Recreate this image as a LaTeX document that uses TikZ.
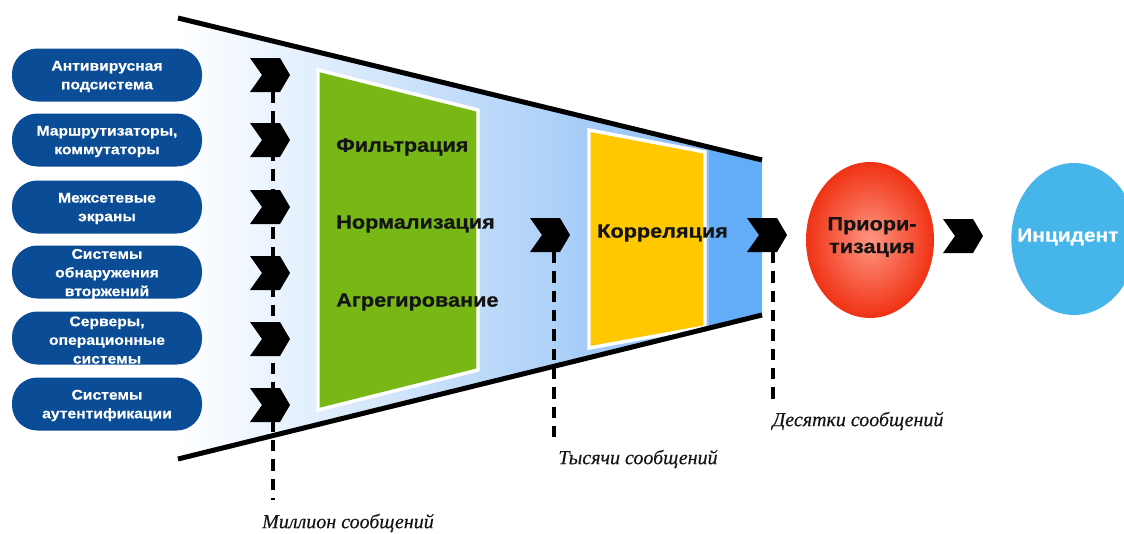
\documentclass[tikz,border=0pt]{standalone}
\usepackage{fontspec}
\setmainfont{Liberation Sans}
\newfontfamily\labfont[FakeStretch=1.12,FakeBold=0.6]{Liberation Sans}
\newfontfamily\notefont[FakeBold=0.3]{Liberation Serif}
\usetikzlibrary{shapes.geometric}

\definecolor{srcblue}{RGB}{10,76,150}
\definecolor{stagegreen}{RGB}{120,184,22}
\definecolor{corryellow}{RGB}{255,200,0}
\definecolor{funnelblue}{RGB}{140,190,245}
\definecolor{stripblue}{RGB}{98,172,248}
\definecolor{incblue}{RGB}{69,181,234}
\definecolor{prired}{RGB}{240,50,20}
\definecolor{prilight}{RGB}{255,150,130}
\definecolor{inkdark}{RGB}{20,20,20}

\tikzset{
  srcbox/.style={rectangle, rounded corners=19pt, fill=srcblue,
    minimum width=142.5pt, minimum height=39.75pt, inner sep=0pt},
  srctext/.style={text=white, align=center, inner sep=0pt,
    font=\labfont\bfseries\fontsize{10.5}{14}\selectfont},
  stagetext/.style={anchor=west, text=inkdark, inner sep=0pt,
    font=\labfont\bfseries\fontsize{14.5}{17}\selectfont},
  notetext/.style={text=inkdark, inner sep=0pt,
    font=\notefont\itshape\fontsize{15}{18}\selectfont},
  funnelline/.style={line width=3.75pt, line cap=butt},
  dashline/.style={line width=2.3pt, dash pattern=on 8.5pt off 6pt},
  panel/.style={draw=white, line width=2.6pt, line join=miter},
  chevron/.pic={
    \fill[black] (-20,-17) -- (10,-17) -- (20,0) -- (10,17) -- (-20,17) -- (-8,0) -- cycle;
    \coordinate (-c) at (0,0);
  },
}

\begin{document}
\begin{tikzpicture}[x=0.75pt,y=-0.75pt]
\useasboundingbox (0,0) rectangle (1124,533);

% funnel corners
\coordinate (ftl) at (178,18);
\coordinate (ftr) at (762,160);
\coordinate (fbr) at (762,315);
\coordinate (fbl) at (178,459);

% funnel body: soft gradient up to the correlation stage, then a solid strip
\shade[left color=white, right color=funnelblue]
  (ftl) -- (709,147) -- (709,328) -- (fbl) -- cycle;
\fill[stripblue] (709,147) -- (ftr) -- (fbr) -- (709,328) -- cycle;

% processing panels
\filldraw[panel, fill=stagegreen] (318,70) -- (478,110) -- (478,370) -- (318,410) -- cycle;
\filldraw[panel, fill=corryellow] (589,130) -- (705,152) -- (705,327) -- (589,348) -- cycle;

% funnel edges
\draw[funnelline] (ftl) -- (ftr);
\draw[funnelline] (fbl) -- (fbr);

% message-volume markers
\coordinate (d1a) at (273,92);  \coordinate (d1b) at (273,500);
\coordinate (d2a) at (554,252); \coordinate (d2b) at (554,440);
\coordinate (d3a) at (773,252); \coordinate (d3b) at (773,405);
\draw[dashline] (d1a) -- (d1b);
\draw[dashline] (d2a) -- (d2b);
\draw[dashline] (d3a) -- (d3b);

\node[notetext] (n1) at (348,523) {Миллион сообщений};
\node[notetext] (n2) at (638,459) {Тысячи сообщений};
\node[notetext] (n3) at (858,421) {Десятки сообщений};

% event sources
\node[srcbox] (s1) at (107,75)  {};
\node[srcbox] (s2) at (107,140) {};
\node[srcbox] (s3) at (107,207) {};
\node[srcbox] (s4) at (107,272) {};
\node[srcbox] (s5) at (107,338) {};
\node[srcbox] (s6) at (107,404) {};
\node[srctext] (t1) at (107,76.5) {Антивирусная\\подсистема};
\node[srctext] (t2) at (107,141.5) {Маршрутизаторы,\\коммутаторы};
\node[srctext] (t3) at (107,208.5) {Межсетевые\\экраны};
\node[srctext] (t4) at (107,274) {Системы\\обнаружения\\вторжений};
\node[srctext] (t5) at (107,340) {Серверы,\\операционные\\системы};
\node[srctext] (t6) at (107,405.5) {Системы\\аутентификации};

% flow chevrons
\pic (c1) at (270,75)  {chevron};
\pic (c2) at (270,140) {chevron};
\pic (c3) at (270,207) {chevron};
\pic (c4) at (270,273) {chevron};
\pic (c5) at (270,339) {chevron};
\pic (c6) at (270,405) {chevron};
\pic (c7) at (550,235) {chevron};
\pic (c8) at (767,235) {chevron};
\pic (c9) at (963,236) {chevron};

% stage labels
\node[stagetext] (l1) at (336,147) {Фильтрация};
\node[stagetext] (l2) at (336,224) {Нормализация};
\node[stagetext] (l3) at (336,302) {Агрегирование};
\node[stagetext] (l4) at (597,233) {Корреляция};

% prioritisation and incident
\node[ellipse, minimum width=96pt, minimum height=117pt, inner sep=0pt,
      inner color=prilight, outer color=prired] (pri) at (870,240) {};
\node[text=inkdark, align=center, inner sep=0pt,
      font=\labfont\bfseries\fontsize{14.5}{17}\selectfont] (prit) at (872,237) {Приори-\\тизация};
\node[ellipse, fill=incblue, minimum width=94pt, minimum height=114pt, inner sep=0pt]
  (inc) at (1074,239) {};
\node[anchor=west, text=white, inner sep=0pt,
      font=\labfont\bfseries\fontsize{14}{17}\selectfont] (inct) at (1017,237) {Инцидент};
\end{tikzpicture}
\end{document}
